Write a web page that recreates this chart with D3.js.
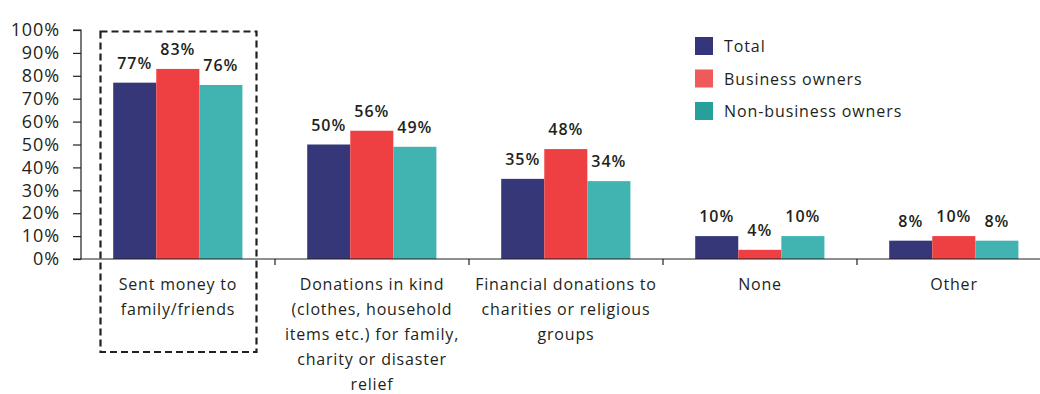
<!DOCTYPE html>
<html>
<head>
<meta charset="utf-8">
<script src="https://cdn.jsdelivr.net/npm/d3@7"></script>
<style>
  html, body { margin: 0; padding: 0; background: #fff; }
  svg { display: block; font-family: "Open Sans", "DejaVu Sans", sans-serif; }
</style>
</head>
<body>
<svg id="chart" width="1040" height="394"></svg>
<script>
// Categories (wrapped label lines) and series values in percent
const categories = ["sent", "kind", "financial", "none", "other"];
const categoryLines = [
  ["Sent money to", "family/friends"],
  ["Donations in kind", "(clothes, household", "items etc.) for family,", "charity or disaster", "relief"],
  ["Financial donations to", "charities or religious", "groups"],
  ["None"],
  ["Other"]
];
const seriesNames = ["Total", "Business owners", "Non-business owners"];
const totalValues = [77, 50, 35, 10, 8];
const businessValues = [83, 56, 48, 4, 10];
const nonBusinessValues = [76, 49, 34, 10, 8];
const yTicks = [0, 10, 20, 30, 40, 50, 60, 70, 80, 90, 100];

const barColors = ["#363779", "#ee4043", "#41b4b2"];
const legendColors = ["#34357a", "#ef5a5a", "#25a09a"];
const textColor = "#231f20";

const svg = d3.select("#chart");
const axisX0 = 81, axisX1 = 1051, baseY = 259, topY = 30;

const x = d3.scaleBand().domain(categories).range([axisX0, axisX1]).padding(0);
const bw = x.bandwidth();
const x1 = d3.scaleBand().domain(seriesNames).range([bw * 0.166, bw * 0.832]).padding(0);
const y = d3.scaleLinear().domain([0, 100]).range([baseY, topY]);

const seriesValues = [totalValues, businessValues, nonBusinessValues];
const rows = categories.map((c, i) => ({
  cat: c,
  vals: seriesNames.map((s, k) => ({ s, k, v: seriesValues[k][i] }))
}));

// Y axis
const yAxis = d3.axisLeft(y).tickValues(yTicks).tickFormat(d => d + "%").tickSize(8).tickPadding(13);
const gy = svg.append("g").attr("transform", `translate(${axisX0},0)`).call(yAxis);
gy.select(".domain").attr("stroke", "#231f20").attr("stroke-width", 1.2).attr("d", `M-8,${topY}H0V${baseY}`);
gy.selectAll(".tick line").attr("stroke", "#231f20").attr("stroke-width", 1.2);
gy.selectAll(".tick text").attr("fill", textColor)
  .style("font-size", "18px").style("letter-spacing", "0.9px")
  .attr("font-family", "\"Open Sans\", sans-serif");

// Bars
const groups = svg.append("g").selectAll("g").data(rows).join("g")
  .attr("transform", d => `translate(${x(d.cat)},0)`);
groups.selectAll("rect").data(d => d.vals).join("rect")
  .attr("x", d => x1(d.s))
  .attr("width", x1.bandwidth())
  .attr("y", d => y(d.v))
  .attr("height", d => baseY - y(d.v))
  .attr("fill", d => barColors[d.k]);

// Value labels
groups.selectAll("text").data(d => d.vals).join("text")
  .attr("x", d => x1(d.s) + x1.bandwidth() / 2)
  .attr("y", d => y(d.v) - 14)
  .attr("text-anchor", "middle")
  .attr("fill", textColor)
  .style("font-size", "16px")
  .style("font-weight", "600")
  .style("letter-spacing", "1px")
  .text(d => d.v + "%");

// X axis line and category separators
svg.append("line").attr("x1", axisX0 - 8).attr("x2", 1040).attr("y1", baseY).attr("y2", baseY)
  .attr("stroke", "#231f20").attr("stroke-width", 1.2);
svg.append("g").selectAll("line").data(categories.slice(1)).join("line")
  .attr("x1", d => x(d)).attr("x2", d => x(d))
  .attr("y1", baseY).attr("y2", baseY + 6)
  .attr("stroke", "#231f20").attr("stroke-width", 1.2);

// Category labels
const catLabels = svg.append("g").selectAll("text").data(categories).join("text")
  .attr("text-anchor", "middle")
  .attr("fill", textColor)
  .style("font-size", "16px")
  .style("letter-spacing", "0.8px");
catLabels.each(function(d, i) {
  d3.select(this).selectAll("tspan").data(categoryLines[i]).join("tspan")
    .attr("x", x(d) + bw / 2)
    .attr("y", (t, j) => 290 + j * 25)
    .text(t => t);
});

// Dashed highlight box around the first category
svg.append("rect")
  .attr("x", x(categories[0]) + 19.5).attr("y", 31.5)
  .attr("width", 156).attr("height", 320.5)
  .attr("fill", "none").attr("stroke", "#231f20")
  .attr("stroke-width", 2.2).attr("stroke-dasharray", "7,4");

// Legend
const legend = svg.append("g").attr("transform", "translate(695,37)");
const li = legend.selectAll("g").data(seriesNames).join("g")
  .attr("transform", (d, i) => `translate(0,${i * 32.5})`);
li.append("rect").attr("width", 18).attr("height", 18).attr("fill", (d, i) => legendColors[i]);
li.append("text").attr("x", 29).attr("y", 15).attr("fill", textColor)
  .style("font-size", "16px").style("letter-spacing", "0.9px").text(d => d);
</script>
</body>
</html>
